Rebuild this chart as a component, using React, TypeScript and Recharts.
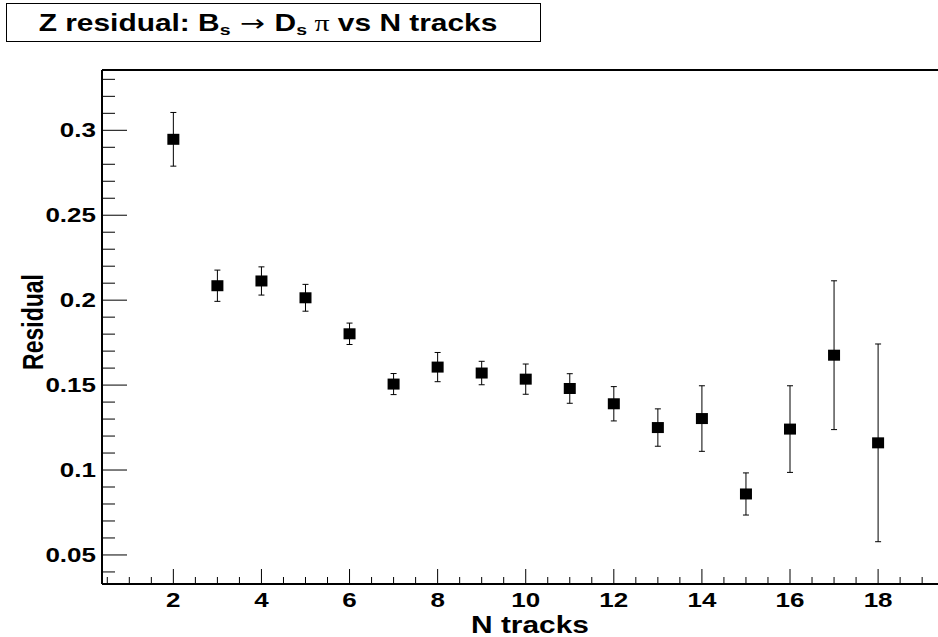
import { ScatterChart, Scatter, XAxis, YAxis, ErrorBar, ReferenceLine } from "recharts";

const TRACKS = [2, 3, 4, 5, 6, 7, 8, 9, 10, 11, 12, 13, 14, 15, 16, 17, 18];
const RESIDUAL = [0.2947, 0.2085, 0.2113, 0.2014, 0.1802, 0.1506, 0.1606, 0.1571, 0.1535, 0.148, 0.139, 0.125, 0.1303, 0.0859, 0.1241, 0.1676, 0.116];
const RESIDUAL_ERR = [0.0158, 0.0092, 0.0083, 0.0079, 0.0063, 0.0062, 0.0086, 0.0069, 0.0089, 0.0087, 0.0101, 0.011, 0.0193, 0.0124, 0.0255, 0.0438, 0.0582];

const X_DOMAIN = [0.38, 19.36];
const Y_DOMAIN = [0.0329, 0.3355];
// ticks every 0.5 on x, every 0.01 on y
const X_TICKS = Array.from({ length: 38 }, (_, i) => 0.5 + i * 0.5);
const Y_TICKS = Array.from({ length: 30 }, (_, i) => Math.round((0.04 + i * 0.01) * 100) / 100);

const FONT = "'Liberation Sans', Arial, Helvetica, sans-serif";
const STRETCH = 1.3;

const data = TRACKS.map((x, i) => ({ x, y: RESIDUAL[i], err: RESIDUAL_ERR[i] }));

const XTick = ({ x, y, payload }: any) => {
  const v = payload.value;
  const major = Math.abs(v / 2 - Math.round(v / 2)) < 1e-6;
  return (
    <g>
      <line x1={x} x2={x} y1={y} y2={y - (major ? 15 : 7)} stroke="#000" strokeWidth={1} />
      {major && (
        <text transform={`translate(${x},${y + 23}) scale(${STRETCH},1)`} textAnchor="middle"
          fontFamily={FONT} fontWeight="bold" fontSize={20} fill="#000">{v}</text>
      )}
    </g>
  );
};

const YTick = ({ x, y, payload }: any) => {
  const v = payload.value;
  const major = Math.round(v * 100) % 5 === 0;
  return (
    <g>
      <line x1={x} x2={x + (major ? 25 : 13)} y1={y} y2={y} stroke="#000" strokeWidth={1} />
      {major && (
        <text transform={`translate(${x - 6},${y + 7}) scale(${STRETCH},1)`} textAnchor="end"
          fontFamily={FONT} fontWeight="bold" fontSize={20} fill="#000">{String(v)}</text>
      )}
    </g>
  );
};

const Marker = (props: any) => (
  <rect x={props.cx - 6} y={props.cy - 5.5} width={12} height={11} fill="#000" />
);

export default function App() {
  return (
    <div style={{ position: "absolute", left: 0, top: 0, width: 938, height: 637, background: "#fff" }}>
      <ScatterChart width={938} height={637} margin={{ top: 70, right: 0, bottom: 0, left: 0 }}>
        <XAxis type="number" dataKey="x" domain={X_DOMAIN} ticks={X_TICKS} interval={0} height={53}
          allowDataOverflow tickLine={false} tickSize={0} tickMargin={0} tick={<XTick />}
          axisLine={{ stroke: "#000", strokeWidth: 2 }} />
        <YAxis type="number" dataKey="y" domain={Y_DOMAIN} ticks={Y_TICKS} interval={0} width={102}
          allowDataOverflow tickLine={false} tickSize={0} tickMargin={0} tick={<YTick />}
          axisLine={{ stroke: "#000", strokeWidth: 2 }} />
        <ReferenceLine y={Y_DOMAIN[1]} stroke="#000" strokeWidth={2} />
        <Scatter data={data} shape={<Marker />} isAnimationActive={false}>
          <ErrorBar dataKey="err" direction="y" width={3} stroke="#000" strokeWidth={1} isAnimationActive={false} />
        </Scatter>
      </ScatterChart>
      <svg width={938} height={637} style={{ position: "absolute", left: 0, top: 0, pointerEvents: "none" }}>
        <rect x={6.5} y={3.5} width={534} height={38} fill="#fff" stroke="#000" strokeWidth={1} />
        <text transform={`translate(268,31) scale(${STRETCH},1)`} textAnchor="middle"
          fontFamily={FONT} fontWeight="bold" fontSize={23} fill="#000">
          Z residual: B<tspan fontSize={15} dy={4}>s</tspan>
          <tspan dy={-4} fontWeight="normal" fontFamily="'DejaVu Sans', sans-serif"> → </tspan>D
          <tspan fontSize={15} dy={4}>s</tspan>
          <tspan dy={-4} fontWeight="normal" fontFamily="'Liberation Serif', serif"> π</tspan> vs N tracks
        </text>
        <text transform={`translate(471,633) scale(${STRETCH},1)`} textAnchor="start"
          fontFamily={FONT} fontWeight="bold" fontSize={23} fill="#000">N tracks</text>
        <text transform={`translate(43,322) scale(${STRETCH},1) rotate(-90)`} textAnchor="middle"
          fontFamily={FONT} fontWeight="bold" fontSize={23} fill="#000">Residual</text>
      </svg>
    </div>
  );
}
